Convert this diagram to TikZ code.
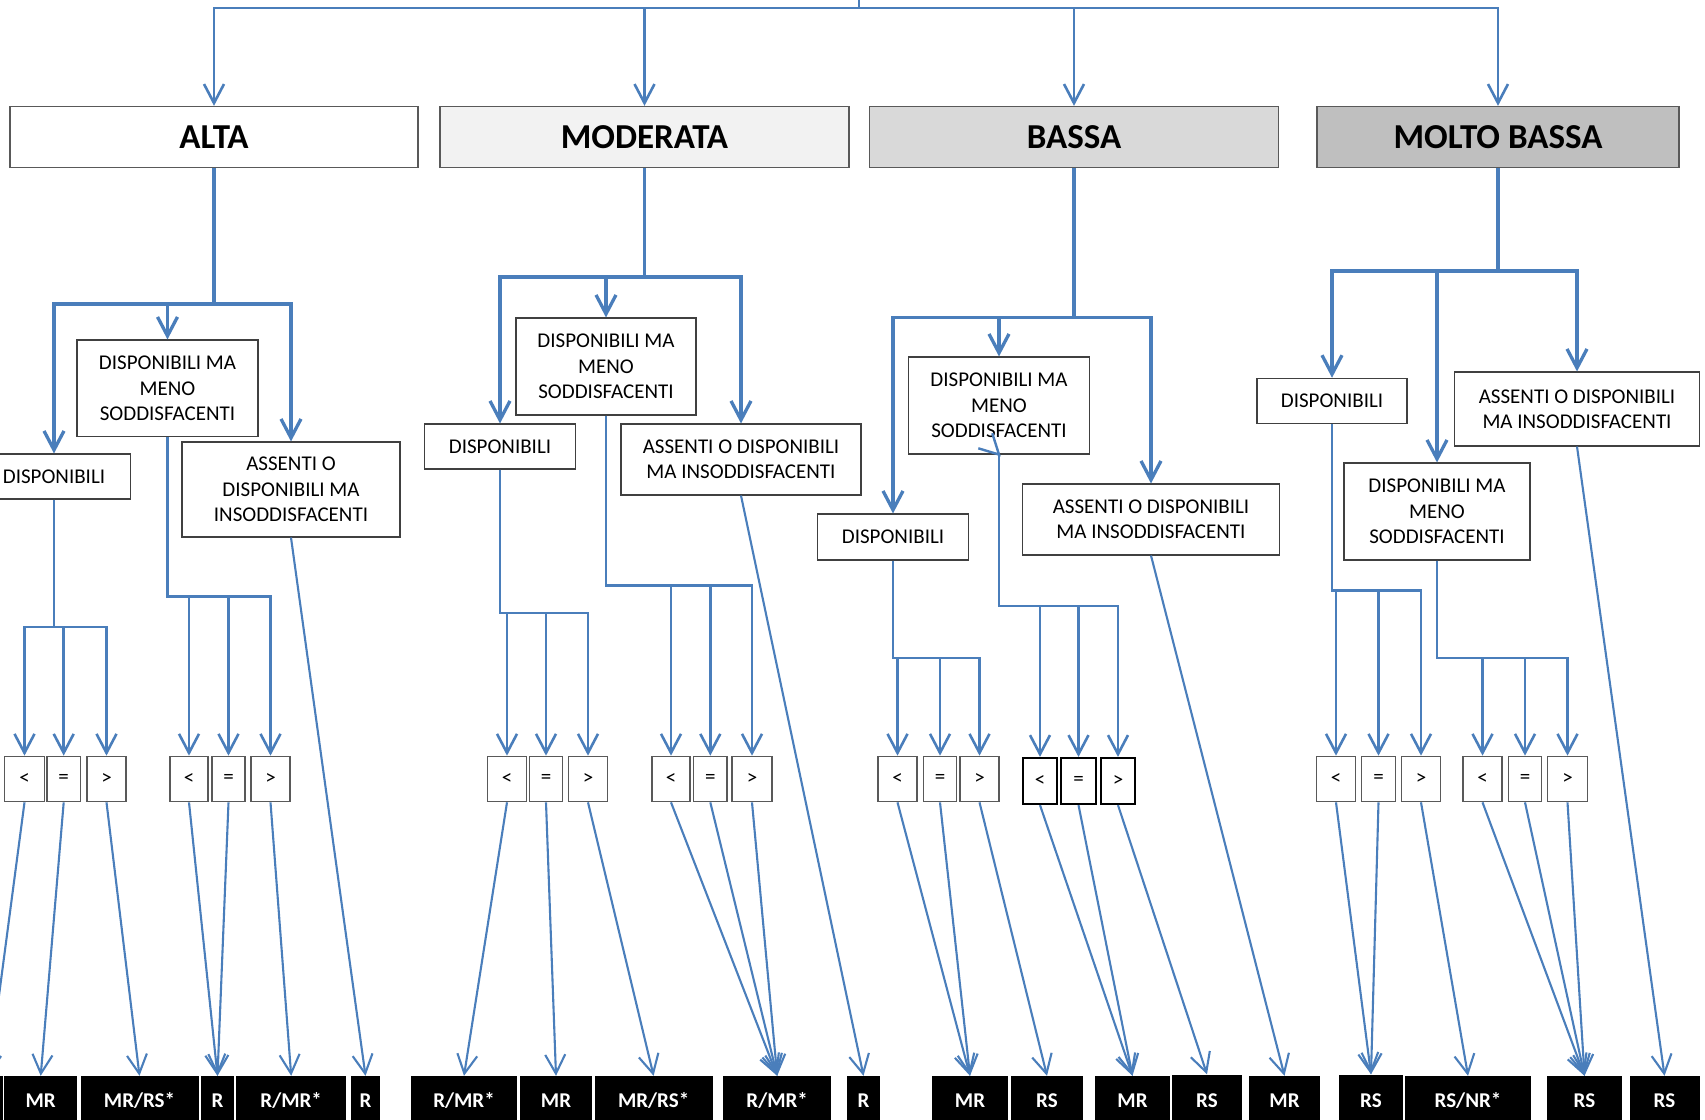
\documentclass[tikz,border=0pt]{standalone}
\usepackage{fontspec}
\setmainfont{Carlito}
\usetikzlibrary{arrows.meta}
\definecolor{ln}{RGB}{74,126,187}
\begin{document}
\begin{tikzpicture}[x=1pt,y=-1pt,
  lvl/.style={draw=black!65, line width=1.3pt, inner sep=0pt, minimum height=61pt, font=\bfseries\fontsize{35}{42}\selectfont},
  box/.style={draw=black!75, fill=white, line width=1.1pt, inner sep=0pt, align=center, font=\fontsize{21}{25.4}\selectfont},
  cmp/.style={draw=black!65, fill=white, line width=1.1pt, inner sep=0pt, minimum height=45.6pt, font=\fontsize{21}{24}\selectfont},
  cmpb/.style={cmp, draw=black, line width=2.2pt, minimum height=46pt},
  res/.style={fill=black, text=white, inner sep=0pt, minimum height=49pt, font=\bfseries\fontsize{21}{25}\selectfont, text height=13.5pt, text depth=0pt},
  arr/.style={draw=ln, line width=2.6pt, -{Straight Barb[length=19pt,width=20pt]}},
  arrT/.style={arr, line width=3.3pt},
  arrd/.style={arr, line width=2.1pt}
]
\useasboundingbox (0,0) rectangle (1705,1119);
\clip (0,0) rectangle (1705,1119);

% ---------- level 1 ----------
\node[lvl, fill=white, minimum width=408pt] (alta) at (214,137) {ALTA};
\node[lvl, fill=black!5, minimum width=409pt] (mod) at (644.5,137) {MODERATA};
\node[lvl, fill=black!15, minimum width=408.5pt] (bassa) at (1074,137) {BASSA};
\node[lvl, fill=black!25, minimum width=362pt] (mb) at (1498,137) {MOLTO BASSA};

\coordinate (root) at (859,-10);
\coordinate (j0) at (0,8);
\foreach \n in {alta,mod,bassa,mb}
  \draw[arr] (root) -- (root|-j0) -| (\n.north);

% ---------- level 2 ----------
\node[box, minimum width=153pt, minimum height=45pt] (a_d) at (54,476.5) {DISPONIBILI};
\node[box, minimum width=181pt, minimum height=96.6pt] (a_m) at (167.5,388.3) {DISPONIBILI MA\\MENO\\SODDISFACENTI};
\node[box, minimum width=218pt, minimum height=95pt] (a_a) at (291,489.5) {ASSENTI O\\DISPONIBILI MA\\INSODDISFACENTI};

\node[box, minimum width=151.5pt, minimum height=45pt] (m_d) at (500,446.5) {DISPONIBILI};
\node[box, minimum width=180pt, minimum height=97pt] (m_m) at (606,366.5) {DISPONIBILI MA\\MENO\\SODDISFACENTI};
\node[box, minimum width=240pt, minimum height=71pt] (m_a) at (741,459.5) {ASSENTI O DISPONIBILI\\MA INSODDISFACENTI};

\node[box, minimum width=151pt, minimum height=46pt] (b_d) at (893,537) {DISPONIBILI};
\node[box, minimum width=181pt, minimum height=97pt] (b_m) at (999,405.5) {DISPONIBILI MA\\MENO\\SODDISFACENTI};
\node[box, minimum width=256.6pt, minimum height=71pt] (b_a) at (1151,519.5) {ASSENTI O DISPONIBILI\\MA INSODDISFACENTI};

\node[box, minimum width=150pt, minimum height=45.4pt] (mb_d) at (1332,401) {DISPONIBILI};
\node[box, minimum width=186pt, minimum height=97pt] (mb_m) at (1437,511.5) {DISPONIBILI MA\\MENO\\SODDISFACENTI};
\node[box, minimum width=244.6pt, minimum height=74pt] (mb_a) at (1577,409) {ASSENTI O DISPONIBILI\\MA INSODDISFACENTI};

\coordinate (jA) at (0,304);
\coordinate (jM) at (0,277);
\coordinate (jB) at (0,317.7);
\coordinate (jMB) at (0,271);
\foreach \c in {a_d,a_m,a_a} \draw[arrT] (alta.south) -- (alta.south|-jA) -| (\c.north);
\foreach \c in {m_d,m_m,m_a} \draw[arrT] (mod.south) -- (mod.south|-jM) -| (\c.north);
\foreach \c in {b_d,b_m,b_a} \draw[arrT] (bassa.south) -- (bassa.south|-jB) -| (\c.north);
\foreach \c in {mb_d,mb_m,mb_a} \draw[arrT] (mb.south) -- (mb.south|-jMB) -| (\c.north);

% ---------- level 3: comparison boxes ----------
% ALTA
\node[cmp, minimum width=40pt] (ad1) at (24.5,779) {<};
\node[cmp, minimum width=33.5pt] (ad2) at (63.7,779) {=};
\node[cmp, minimum width=39pt] (ad3) at (106.5,779) {>};
\node[cmp, minimum width=38pt] (am1) at (189,779) {<};
\node[cmp, minimum width=33pt] (am2) at (228.5,779) {=};
\node[cmp, minimum width=39pt] (am3) at (270.5,779) {>};
% MODERATA
\node[cmp, minimum width=39pt] (md1) at (507,779) {<};
\node[cmp, minimum width=33.5pt] (md2) at (546,779) {=};
\node[cmp, minimum width=39pt] (md3) at (588,779) {>};
\node[cmp, minimum width=38pt] (mm1) at (671,779) {<};
\node[cmp, minimum width=33.4pt] (mm2) at (710.3,779) {=};
\node[cmp, minimum width=40pt] (mm3) at (752,779) {>};
% BASSA
\node[cmp, minimum width=39pt] (bd1) at (897.5,779) {<};
\node[cmp, minimum width=33.5pt] (bd2) at (940,779) {=};
\node[cmp, minimum width=39pt] (bd3) at (979.5,779) {>};
\node[cmpb, minimum width=34pt] (bm1) at (1040,781) {<};
\node[cmpb, minimum width=35pt] (bm2) at (1078.5,781) {=};
\node[cmpb, minimum width=34.5pt] (bm3) at (1118,781) {>};
% MOLTO BASSA
\node[cmp, minimum width=39pt] (mbd1) at (1336,779) {<};
\node[cmp, minimum width=33.5pt] (mbd2) at (1378.5,779) {=};
\node[cmp, minimum width=39.5pt] (mbd3) at (1421,779) {>};
\node[cmp, minimum width=39pt] (mbm1) at (1482.5,779) {<};
\node[cmp, minimum width=32.5pt] (mbm2) at (1525,779) {=};
\node[cmp, minimum width=39.5pt] (mbm3) at (1567.5,779) {>};

\coordinate (jAd) at (0,627);
\coordinate (jAm) at (0,596.4);
\coordinate (jMd) at (0,612.8);
\coordinate (jMm) at (0,585.7);
\coordinate (jBd) at (0,658);
\coordinate (jBm) at (0,606);
\coordinate (jMBd) at (0,590.5);
\coordinate (jMBm) at (0,658);
\foreach \c in {ad1,ad2,ad3} \draw[arr] (a_d.south) -- (a_d.south|-jAd) -| (\c.north);
\foreach \c in {am1,am2,am3} \draw[arr] (a_m.south) -- (a_m.south|-jAm) -| (\c.north);
\foreach \c in {md1,md2,md3} \draw[arr] (m_d.south) -- (m_d.south|-jMd) -| (\c.north);
\foreach \c in {mm1,mm2,mm3} \draw[arr] (m_m.south) -- (m_m.south|-jMm) -| (\c.north);
\foreach \c in {bd1,bd2,bd3} \draw[arr] (b_d.south) -- (b_d.south|-jBd) -| (\c.north);
\foreach \c in {bm1,bm2,bm3} \draw[arr] (b_m.south) -- (b_m.south|-jBm) -| (\c.north);
\foreach \c in {mbd1,mbd2,mbd3} \draw[arr] (mb_d.south) -- (mb_d.south|-jMBd) -| (\c.north);
\foreach \c in {mbm1,mbm2,mbm3} \draw[arr] (mb_m.south) -- (mb_m.south|-jMBm) -| (\c.north);

% small stray strokes at the foot of the BASSA box
\coordinate (bq1) at (992.3,433.3);
\coordinate (bq2) at (978.3,448.3);
\draw[ln, line width=2.4pt] (bq1) -- (b_m.south) -- (bq2);

% ---------- level 4: results ----------
\node[res, minimum width=28.7pt] (rA0) at (-11.6,1100.5) {};
\node[res, minimum width=72.6pt] (rA1) at (40.7,1100.5) {MR};
\node[res, minimum width=118pt] (rA2) at (139.5,1100.5) {MR/RS*};
\node[res, minimum width=33pt] (rA3) at (217.5,1100.5) {R};
\node[res, minimum width=110.5pt] (rA4) at (291.2,1100.5) {R/MR*};
\node[res, minimum width=29pt] (rA5) at (365.5,1100.5) {R};

\node[res, minimum width=106pt] (rM1) at (464,1100.5) {R/MR*};
\node[res, minimum width=72pt] (rM2) at (556,1100.5) {MR};
\node[res, minimum width=118pt] (rM3) at (653.6,1100.5) {MR/RS*};
\node[res, minimum width=107.5pt] (rM4) at (777.2,1100.5) {R/MR*};
\node[res, minimum width=33pt] (rM5) at (863.5,1100.5) {R};

\node[res, minimum width=76pt] (rB1) at (970,1100.5) {MR};
\node[res, minimum width=72pt] (rB2) at (1047,1100.5) {RS};
\node[res, minimum width=75pt] (rB3) at (1132.5,1100.5) {MR};
\node[res, minimum width=70pt, minimum height=52pt] (rB4) at (1207,1100.5) {RS};
\node[res, minimum width=71pt] (rB5) at (1284.5,1100.5) {MR};

\node[res, minimum width=64pt, minimum height=52pt] (rS1) at (1371,1100.5) {RS};
\node[res, minimum width=126pt] (rS2) at (1468,1100.5) {RS/NR*};
\node[res, minimum width=75pt] (rS3) at (1584.5,1100.5) {RS};
\node[res, minimum width=70pt] (rS4) at (1664.5,1100.5) {RS};

% result connectors
\draw[arrd] (ad1.south) -- (rA0.north);
\draw[arrd] (ad2.south) -- (rA1.north);
\draw[arrd] (ad3.south) -- (rA2.north);
\draw[arrd] (am1.south) -- (rA3.north);
\draw[arrd] (am2.south) -- (rA3.north);
\draw[arrd] (am3.south) -- (rA4.north);
\draw[arrd] (a_a.south) -- (rA5.north);

\draw[arrd] (md1.south) -- (rM1.north);
\draw[arrd] (md2.south) -- (rM2.north);
\draw[arrd] (md3.south) -- (rM3.north);
\foreach \c in {mm1,mm2,mm3} \draw[arrd] (\c.south) -- (rM4.north);
\draw[arrd] (m_a.south) -- (rM5.north);

\draw[arrd] (bd1.south) -- (rB1.north);
\draw[arrd] (bd2.south) -- (rB1.north);
\draw[arrd] (bd3.south) -- (rB2.north);
\draw[arrd] (bm1.south) -- (rB3.north);
\draw[arrd] (bm2.south) -- (rB3.north);
\draw[arrd] (bm3.south) -- (rB4.north);
\draw[arrd] (b_a.south) -- (rB5.north);

\draw[arrd] (mbd1.south) -- (rS1.north);
\draw[arrd] (mbd2.south) -- (rS1.north);
\draw[arrd] (mbd3.south) -- (rS2.north);
\foreach \c in {mbm1,mbm2,mbm3} \draw[arrd] (\c.south) -- (rS3.north);
\draw[arrd] (mb_a.south) -- (rS4.north);
\end{tikzpicture}
\end{document}
